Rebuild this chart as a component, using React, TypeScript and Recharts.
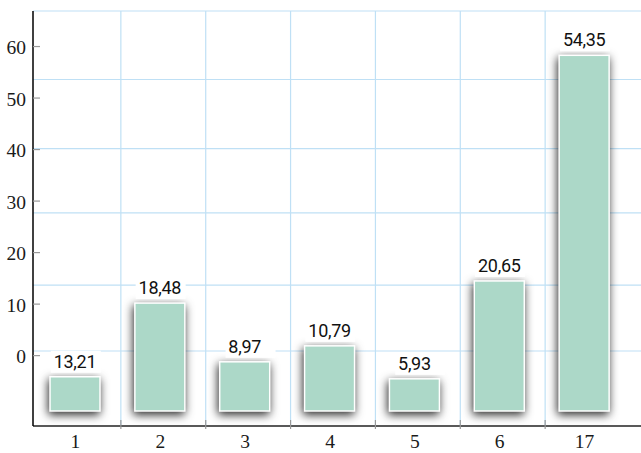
import { BarChart, Bar, XAxis, YAxis, CartesianGrid, LabelList } from "recharts";

const categories = ["1", "2", "3", "4", "5", "6", "17"];
const labelValues = [13.21, 18.48, 8.97, 10.79, 5.93, 20.65, 54.35];
// bar tops as drawn, read against the left axis
const barTops = [-4.1, 10.2, -1.2, 1.9, -4.5, 14.5, 58.3];
const barBase = -10.75;
const yTicks = [0, 10, 20, 30, 40, 50, 60];
const gridValues = [0.9, 13.7, 27.7, 40.2, 53.6, 66.9];

const data = categories.map((name, i) => ({
  name,
  range: [barBase, barTops[i]],
  label: labelValues[i],
}));

const W = 641;
const H = 453;
const AXIS_W = 33;
const PAD_RIGHT = 14;
const BAND = (W - AXIS_W - PAD_RIGHT) / categories.length;

const fmt = (v: number) => v.toFixed(2).replace(".", ",");

function YTick(props: any) {
  const { x, y, payload } = props;
  return (
    <g>
      <line x1={x + 7} x2={x + 14} y1={y} y2={y} stroke="#999" strokeWidth={1.2} />
      <text
        x={x}
        y={y + 7.5}
        textAnchor="end"
        fontFamily="'Liberation Serif', serif"
        fontSize={19.5}
        fill="#1a1a1a"
      >
        {payload.value}
      </text>
    </g>
  );
}

function XTick(props: any) {
  const { x, y, payload, index } = props;
  const bx = x + BAND / 2 + 3;
  return (
    <g>
      {index < categories.length - 1 && (
        <line x1={bx} x2={bx} y1={y - 6} y2={y + 3} stroke="#999" strokeWidth={1.2} />
      )}
      <text
        x={x}
        y={y + 22}
        textAnchor="middle"
        fontFamily="'Liberation Serif', serif"
        fontSize={19.5}
        fill="#1a1a1a"
      >
        {payload.value}
      </text>
    </g>
  );
}

function BarShape(props: any) {
  const { x, y, width, height } = props;
  return (
    <rect
      x={x}
      y={y}
      width={width}
      height={height}
      fill="#acd8c8"
      stroke="#fff"
      strokeWidth={1.5}
      style={{ filter: "drop-shadow(-1px 3px 5px rgba(0,0,0,0.85))" }}
    />
  );
}

function ValueLabel(props: any) {
  const vb = props.viewBox || props;
  const x = vb.x ?? props.x;
  const y = vb.y ?? props.y;
  const width = vb.width ?? props.width;
  const text = fmt(Number(props.value));
  const digits = text.replace(",", "").length;
  const tw = digits * 10.1 + 4;
  const cx = x + width / 2;
  const base = y - 9;
  const start = cx - tw / 2;
  return (
    <g>
      <rect x={start - 2} y={base - 17} width={50} height={22} fill="#fff" />
      <text
        x={cx}
        y={base}
        textAnchor="middle"
        fontFamily="Roboto, sans-serif"
        fontSize={18}
        letterSpacing={-0.3}
        fill="#111"
      >
        {text}
      </text>
    </g>
  );
}

export default function App() {
  return (
    <div style={{ position: "absolute", left: 0, top: 0, background: "#fff" }}>
      <BarChart
        width={W}
        height={H}
        data={data}
        margin={{ top: 11, right: 0, bottom: 0, left: 0 }}
        barCategoryGap={0}
      >
        <CartesianGrid
          stroke="#bfe0f5"
          strokeWidth={1.2}
          horizontalValues={gridValues}
          verticalCoordinatesGenerator={({ offset }: any) =>
            [1, 2, 3, 4, 5, 6].map((k) => offset.left + BAND * k + 3)
          }
        />
        <XAxis
          dataKey="name"
          height={27}
          padding={{ left: 0, right: PAD_RIGHT }}
          axisLine={{ stroke: "#222", strokeWidth: 1.5 }}
          tickLine={false}
          tickSize={0}
          tickMargin={0}
          tick={<XTick />}
          interval={0}
        />
        <YAxis
          width={AXIS_W}
          domain={[-13.66, 66.9]}
          ticks={yTicks}
          allowDataOverflow
          axisLine={{ stroke: "#000", strokeWidth: 1.5 }}
          tickLine={false}
          tickSize={0}
          tickMargin={7}
          tick={<YTick />}
          interval={0}
        />
        <Bar dataKey="range" barSize={50} isAnimationActive={false} shape={<BarShape />}>
          <LabelList dataKey="label" content={<ValueLabel />} />
        </Bar>
      </BarChart>
    </div>
  );
}
